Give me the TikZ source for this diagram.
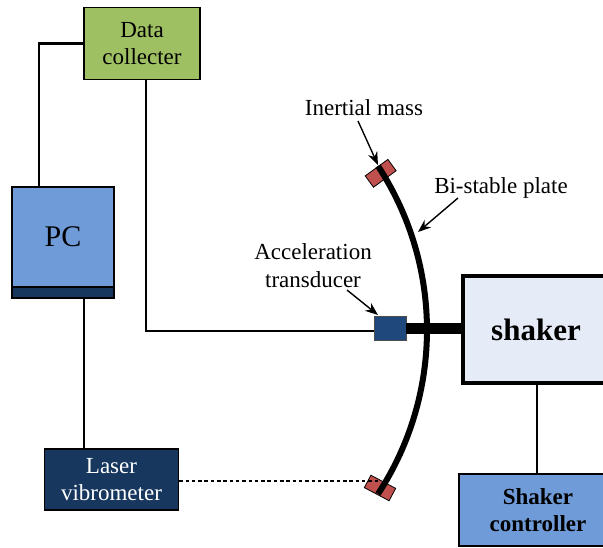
\documentclass[tikz,border=0pt]{standalone}
\usepackage{fontspec}
\setmainfont{Liberation Serif}
\usetikzlibrary{arrows.meta}
\definecolor{datagreen}{HTML}{9FBF63}
\definecolor{pcblue}{HTML}{6F9BD9}
\definecolor{navy}{HTML}{17375E}
\definecolor{shakerbg}{HTML}{E6ECF7}
\definecolor{transblue}{HTML}{1F497D}
\definecolor{massred}{HTML}{C0504D}
\tikzset{
  boxed/.style={draw=black,line width=1.5pt,align=center,inner sep=0pt,font=\fontsize{23}{27}\selectfont},
  wire/.style={draw=black,line width=2.6pt},
  pointer/.style={draw=black,line width=1.4pt,-{Stealth[length=13pt,width=10pt]}},
  caption/.style={align=center,inner sep=0pt,font=\fontsize{23}{28}\selectfont},
  massbox/.style={draw=black,line width=0.8pt,fill=massred,minimum width=28pt,minimum height=14pt,inner sep=0pt},
  plateline/.style={draw=black,line width=6pt}
}
\begin{document}
\begin{tikzpicture}[x=1pt,y=-1pt]
\useasboundingbox (0,0) rectangle (603,547);
% boxes
\node[boxed,fill=datagreen,minimum width=116pt,minimum height=72pt] (data) at (142,43.5) {Data\\collecter};
\node[boxed,fill=pcblue,minimum width=102pt,minimum height=100pt] (pc) at (63,237) {\fontsize{30}{36}\selectfont PC};
\node[boxed,fill=navy,minimum width=102pt,minimum height=11pt] (pcstrip) at (63,292.5) {};
\node[boxed,fill=navy,text=white,minimum width=134pt,minimum height=61pt] (laser) at (111.5,479.5) {Laser\\vibrometer};
\node[boxed,fill=shakerbg,line width=3.4pt,minimum width=146pt,minimum height=107pt] (shaker) at (536,329.5) {\fontsize{31}{36}\selectfont\bfseries shaker};
\node[boxed,fill=pcblue,minimum width=158pt,minimum height=72pt,font=\fontsize{23}{27}\selectfont\bfseries] (ctrl) at (538,510) {Shaker\\controller};
% masses and plate
\node[massbox,rotate=36] (masstop) at (380.7,173.3) {};
\node[massbox,rotate=-28] (massbot) at (380,488) {};
\coordinate (platetop) at (378,166);
\coordinate (platebot) at (378,494);
\draw[plateline] (platetop) .. controls (443.3,265.8) and (443.3,394.2) .. (platebot);
% transducer
\node[draw=black!70,line width=0.8pt,fill=transblue,minimum width=32pt,minimum height=24pt,inner sep=0pt] (trans) at (390,328) {};
\draw[draw=black,line width=11pt] (trans.east) -- (shaker.west |- trans.east);
% wires
\draw[wire] (data.west) -| ([xshift=-24pt]pc.north);
\draw[wire] ([xshift=4pt]data.south) |- ([yshift=-3pt]trans.west);
\draw[wire] ([xshift=21pt]pcstrip.south) -- ([xshift=21pt]pcstrip.south |- laser.north);
\draw[wire] ([xshift=1pt]shaker.south) -- ([xshift=1pt]shaker.south |- ctrl.north);
% dotted
\coordinate (dotend) at (380,481);
\draw[draw=black,line width=2.4pt,dash pattern=on 3.5pt off 2.8pt] (laser.east |- dotend) -- (dotend);
% labels
\node[caption] (lmass) at (364,108) {Inertial mass};
\node[caption] (lplate) at (501,188) {Bi-stable plate};
\node[caption] (ltrans) at (313,266) {Acceleration\\transducer};
\coordinate (tipmass) at (378,165);
\coordinate (tipplate) at (418,232);
\coordinate (tiptrans) at (378,315);
\draw[pointer] (lmass) ++(-6,13) -- (tipmass);
\draw[pointer] (lplate) ++(-43,10) -- (tipplate);
\draw[pointer] (ltrans) ++(34,24) -- (tiptrans);
\end{tikzpicture}
\end{document}
